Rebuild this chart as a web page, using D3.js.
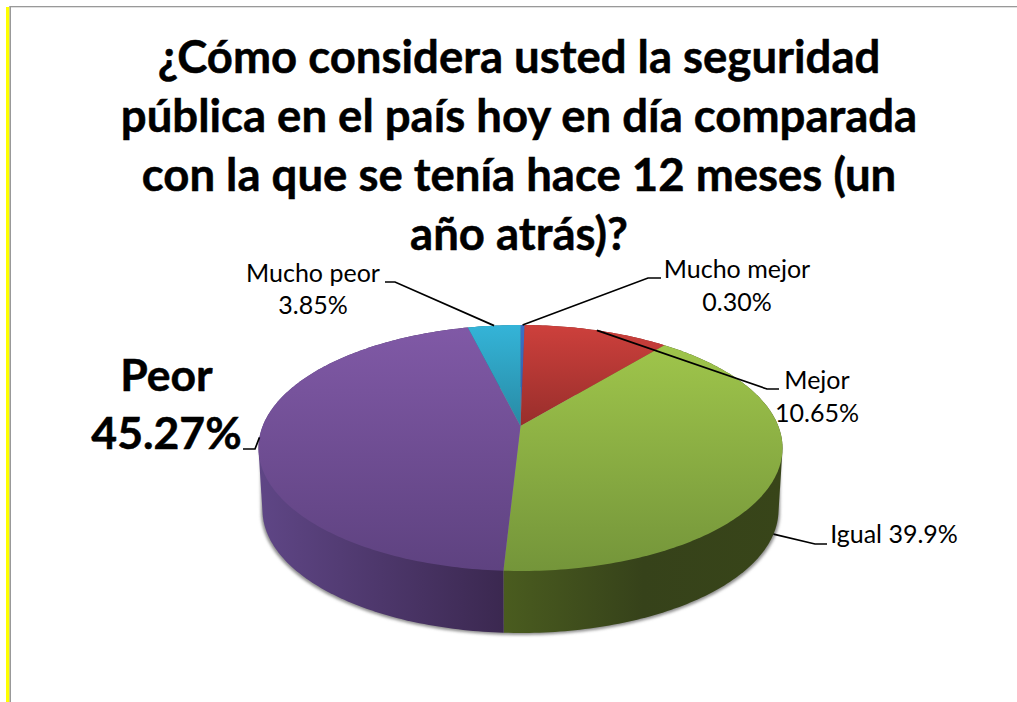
<!DOCTYPE html>
<html>
<head>
<meta charset="utf-8">
<script src="https://cdn.jsdelivr.net/npm/d3@7"></script>
<style>
  html, body { margin: 0; padding: 0; background: #fff; overflow: hidden; }
  text { font-family: Lato, "Open Sans", sans-serif; fill: #000; }
</style>
</head>
<body>
<div id="chart"></div>
<script>
// data
const categories = ["Mucho mejor", "Mejor", "Igual", "Peor", "Mucho peor"];
const values = [0.30, 10.65, 39.9, 45.27, 3.85];
const value_labels = ["0.30%", "10.65%", "39.9%", "45.27%", "3.85%"];
const title_lines = [
	"¿Cómo considera usted la seguridad",
	"pública en el país hoy en día comparada",
	"con la que se tenía hace 12 meses (un",
	"año atrás)?"
];

// top face colours [top, bottom], wall colours [left, right]
const face_colors = [["#3d70c6", "#2f5aa0"], ["#cd403c", "#982e2b"], ["#9fc54b", "#74953a"], ["#8059a6", "#5e4280"], ["#34b4d8", "#288aa4"]];
const wall_colors = [["#2f5aa0", "#2f5aa0"], ["#7a2422", "#7a2422"], ["#4a5c1f", "#36421a"], ["#5f4686", "#3b2850"], ["#206f85", "#206f85"]];

const chart_width = 1017, chart_height = 702;

// ellipse of the top face, ellipse of the bottom edge
const top_ell = {cx: 520.5, cy: 448, rx: 262, ry: 123};
const bot_ell = {cx: 520.5, cy: 510, rx: 258, ry: 123};
const tilt = -0.179; // perspective: moves the pie centre up inside the ellipse

var svg = d3.select("#chart")
	.append("svg")
	.attr("width", chart_width)
	.attr("height", chart_height);

var defs = svg.append("defs");

// page frame
svg.append("rect").attr("x", 6).attr("y", 7).attr("width", 3.5).attr("height", chart_height - 7).attr("fill", "#ffff00");
svg.append("rect").attr("x", 9.5).attr("y", 6).attr("width", 1.5).attr("height", chart_height - 6).attr("fill", "#999");
svg.append("rect").attr("x", 9.5).attr("y", 6).attr("width", chart_width - 9.5).attr("height", 1.3).attr("fill", "#999");

// title
svg.selectAll("text.title")
	.data(title_lines)
	.enter()
	.append("text")
	.attr("class", "title")
	.attr("x", 519)
	.attr("y", (d, i) => 73 + i * 59)
	.attr("text-anchor", "middle")
	.attr("font-size", 45.5)
	.attr("font-weight", 700)
	.attr("stroke", "#000")
	.attr("stroke-width", 0.5)
	.text(d => d);

// ---------------------------------------------------------------------------------
// pie angles from d3, then a projective map of the unit circle onto the ellipse
const pie = d3.pie().sort(null).value(d => d)(values);

function rim(angle, ell) {
	const u = Math.sin(angle), v = -Math.cos(angle);
	const w = 1 + tilt * v;
	return [
		ell.cx + ell.rx * u * Math.sqrt(1 - tilt * tilt) / w,
		ell.cy + ell.ry * (v + tilt) / w
	];
}
function apex(ell) {
	return [ell.cx, ell.cy + ell.ry * tilt];
}
function rim_points(a0, a1, ell) {
	const n = Math.max(2, Math.ceil((a1 - a0) * 60));
	return d3.range(n + 1).map(i => rim(a0 + (a1 - a0) * i / n, ell));
}
const line = d3.line();

// gradients
pie.forEach((p, i) => {
	const f = defs.append("linearGradient").attr("id", "face" + i)
		.attr("x1", 0).attr("y1", 0).attr("x2", 0).attr("y2", 1);
	f.append("stop").attr("offset", "0%").attr("stop-color", face_colors[i][0]);
	f.append("stop").attr("offset", "100%").attr("stop-color", face_colors[i][1]);
	const g = defs.append("linearGradient").attr("id", "wall" + i)
		.attr("x1", 0).attr("y1", 0).attr("x2", 1).attr("y2", 0);
	g.append("stop").attr("offset", "0%").attr("stop-color", wall_colors[i][0]);
	g.append("stop").attr("offset", i == 2 ? "50%" : "100%").attr("stop-color", wall_colors[i][1]);
	if (i == 2) g.append("stop").attr("offset", "100%").attr("stop-color", "#384519");
});
defs.append("filter").attr("id", "soft")
	.attr("x", "-5%").attr("y", "-5%").attr("width", "110%").attr("height", "110%")
	.append("feGaussianBlur").attr("stdDeviation", 1.8);

// soft shadow under the disc
svg.append("path")
	.attr("d", line(d3.polygonHull(
		rim_points(0, 2 * Math.PI, {cx: top_ell.cx, cy: top_ell.cy + 3, rx: top_ell.rx - 2, ry: top_ell.ry})
			.concat(rim_points(0, 2 * Math.PI, {cx: bot_ell.cx, cy: bot_ell.cy + 2, rx: bot_ell.rx + 1.5, ry: bot_ell.ry}))
	)) + "Z")
	.attr("fill", "#8f8f8f")
	.attr("filter", "url(#soft)");

// walls, only the slices that face the viewer show
svg.selectAll("path.wall")
	.data(pie)
	.enter()
	.append("path")
	.attr("class", "wall")
	.attr("d", d => line(d3.polygonHull(
		rim_points(d.startAngle, d.endAngle, top_ell).concat(rim_points(d.startAngle, d.endAngle, bot_ell))
	)) + "Z")
	.attr("fill", (d, i) => `url(#wall${i})`);

// top faces
svg.selectAll("path.face")
	.data(pie)
	.enter()
	.append("path")
	.attr("class", "face")
	.attr("d", d => line([apex(top_ell)].concat(rim_points(d.startAngle, d.endAngle, top_ell))) + "Z")
	.attr("fill", (d, i) => `url(#face${i})`);

// ---------------------------------------------------------------------------------
// labels and leader lines: leaders start on the rim at each slice's mid angle
const leader_bends = [[[648, 278], [661, 278]], [[767, 389], [779, 389]], [[815, 544], [827, 544]], [[255, 449], [243, 449]], [[395, 282], [385, 282]]];
const leader_rims = [top_ell, top_ell, bot_ell, top_ell, top_ell];
const label_boxes = [
	{x: 737, y: 278, size: 25, weight: 400, gap: 33},
	{x: 817, y: 389, size: 25, weight: 400, gap: 33},
	{x: 894, y: 543, size: 25, weight: 400, gap: 33},
	{x: 166.5, y: 391, size: 44.5, weight: 700, gap: 58},
	{x: 313, y: 282, size: 25, weight: 400, gap: 32}
];

svg.selectAll("path.leader")
	.data(pie)
	.enter()
	.append("path")
	.attr("class", "leader")
	.attr("d", (d, i) => line([rim((d.startAngle + d.endAngle) / 2, leader_rims[i])].concat(leader_bends[i])))
	.attr("fill", "none")
	.attr("stroke", "#000")
	.attr("stroke-width", 1.7);

categories.forEach((c, i) => {
	const b = label_boxes[i];
	const lines = i == 2 ? [c + " " + value_labels[i]] : [c, value_labels[i]];
	lines.forEach((s, j) => {
		svg.append("text")
			.attr("x", b.x)
			.attr("y", b.y + j * b.gap)
			.attr("text-anchor", "middle")
			.attr("font-size", b.size)
			.attr("font-weight", b.weight)
			.attr("stroke", b.weight == 700 ? "#000" : "none")
			.attr("stroke-width", 0.5)
			.text(s);
	});
});
</script>
</body>
</html>
